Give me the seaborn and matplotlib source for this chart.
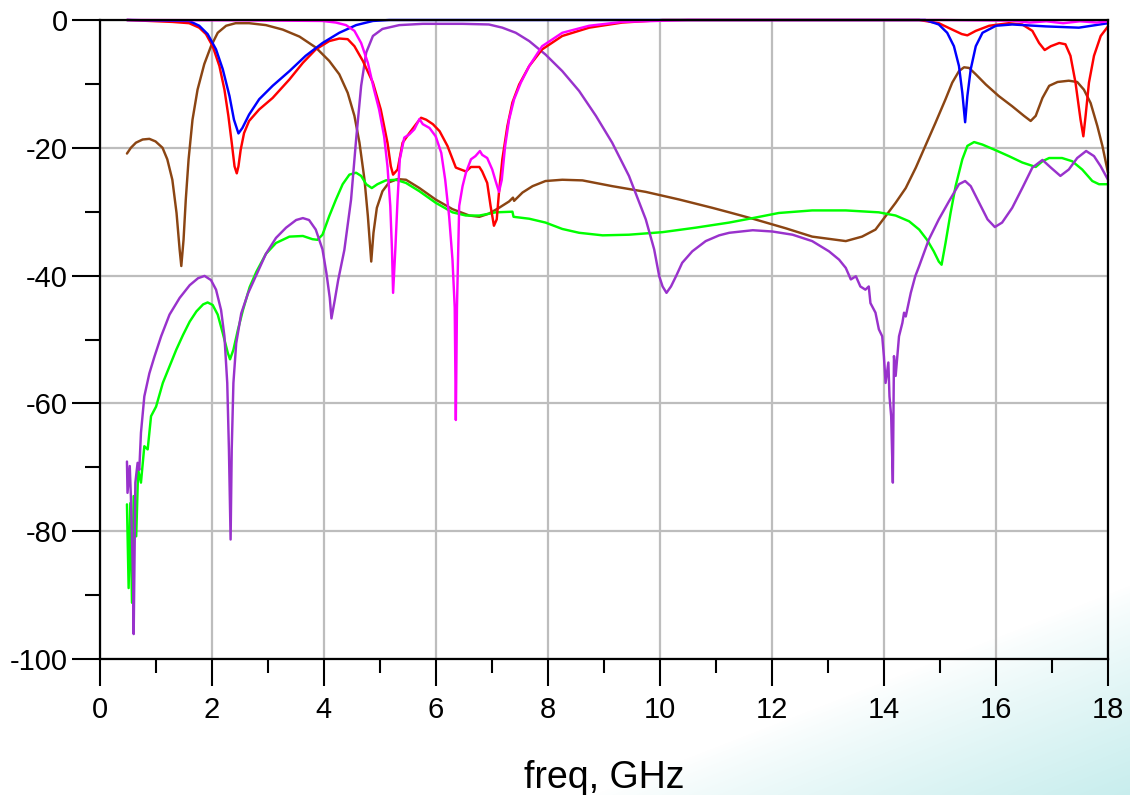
import numpy as np
import pandas as pd
import matplotlib
matplotlib.use("Agg")
import matplotlib.pyplot as plt
import seaborn as sns

# S-parameter traces (freq in GHz, magnitude in dB)
red_f = [0.49, 1.3, 1.6, 1.78, 1.9, 2.02, 2.14, 2.23, 2.3, 2.36, 2.41, 2.45, 2.48, 2.52, 2.58,
         2.67, 2.85, 3.09, 3.39, 3.63, 3.86, 4.1, 4.28, 4.43, 4.55, 4.7, 4.88, 5.02, 5.14, 5.2,
         5.24, 5.32, 5.41, 5.53, 5.65, 5.74, 5.83, 5.95, 6.07, 6.21, 6.36, 6.54, 6.63, 6.78,
         6.83, 6.92, 6.98, 7.04, 7.09, 7.13, 7.19, 7.28, 7.37, 7.49, 7.67, 7.9, 8.26, 8.74,
         9.33, 10.05, 14.63, 14.98, 15.22, 15.39, 15.49, 15.64, 15.88, 16.23, 16.47, 16.65,
         16.77, 16.87, 16.98, 17.13, 17.24, 17.33, 17.42, 17.51, 17.56, 17.6, 17.66, 17.75,
         17.87, 18.0]
red_db = [0.0, -0.3, -0.5, -1.2, -2.2, -4.1, -7.2, -10.9, -15.0, -19.2, -22.9, -24.0, -22.9, -20.3, -17.7,
          -15.8, -14.0, -12.2, -9.3, -6.7, -4.6, -3.3, -2.9, -3.0, -4.1, -6.4, -9.8, -14.0, -19.2, -22.9,
          -24.2, -23.4, -19.2, -17.7, -16.3, -15.3, -15.6, -16.3, -17.4, -19.7, -23.1, -23.7, -23.0, -23.0,
          -23.7, -25.5, -29.1, -32.2, -31.2, -27.0, -21.8, -16.6, -12.9, -10.1, -7.2, -4.6, -2.5, -1.2,
          -0.4, 0.0, 0.0, -0.5, -1.5, -2.2, -2.4, -1.7, -0.9, -0.5, -0.7, -1.7,
          -3.6, -4.7, -4.1, -3.6, -3.8, -5.6, -9.8, -15.6, -18.2, -15.0, -9.8, -5.6,
          -2.5, -1.0]

blue_f = [0.49, 1.6, 1.78, 1.93, 2.08, 2.2, 2.32, 2.4, 2.48, 2.55, 2.67, 2.85, 3.09, 3.39, 3.68,
          3.98, 4.28, 4.58, 4.88, 5.17, 14.74, 14.98, 15.13, 15.25, 15.34, 15.4, 15.45, 15.49,
          15.55, 15.64, 15.76, 16.0, 16.29, 16.89, 17.48, 17.78, 18.0]
blue_db = [0.0, -0.15, -0.9, -2.2, -4.6, -7.7, -11.9, -15.6, -17.75, -16.9, -14.8, -12.4, -10.3, -8.0, -5.6,
           -3.6, -2.0, -0.8, -0.15, 0.0, 0.0, -0.7, -2.0, -4.1, -7.2, -11.4, -16.0, -11.9,
           -7.7, -4.1, -2.0, -0.9, -0.7, -1.0, -1.2, -0.8, -0.5]

magenta_f = [0.49, 2.5, 3.98, 4.22, 4.4, 4.55, 4.67, 4.79, 4.9, 4.99, 5.08, 5.14, 5.19, 5.22, 5.24,
             5.28, 5.32, 5.36, 5.44, 5.53, 5.62, 5.71, 5.77, 5.89, 6.0, 6.1, 6.17, 6.24, 6.3, 6.34,
             6.36, 6.38, 6.42, 6.48, 6.54, 6.63, 6.71, 6.79, 6.83, 6.92, 7.01, 7.07, 7.13, 7.18,
             7.24, 7.31, 7.4, 7.52, 7.67, 7.9, 8.26, 8.74, 9.33, 10.5, 15.0, 16.3, 16.6, 16.9,
             17.2, 17.5, 17.8, 18.0]
magenta_db = [0.0, -0.05, -0.15, -0.4, -0.8, -1.7, -3.6, -6.7, -10.9, -14.0, -18.2, -22.9, -29.1, -35.9, -42.7,
              -35.9, -28.1, -21.8, -18.4, -17.9, -17.1, -15.5, -16.3, -16.9, -18.2, -20.8, -25.0, -30.7, -37.5, -45.0,
              -62.6, -45.0, -29.1, -26.0, -23.9, -21.8, -21.3, -20.5, -21.1, -21.6, -23.4, -25.2, -26.9, -25.0,
              -19.7, -15.6, -12.4, -9.8, -7.2, -4.1, -2.0, -0.9, -0.3, 0.0, 0.0, -0.1, -0.4, -0.2,
              -0.5, -0.2, -0.4, -0.2]

brown_f = [0.49, 0.56, 0.65, 0.77, 0.89, 1.0, 1.125, 1.21, 1.30, 1.375, 1.43, 1.46, 1.5, 1.54, 1.59,
           1.66, 1.75, 1.87, 1.99, 2.11, 2.26, 2.43, 2.67, 2.97, 3.27, 3.57, 3.86, 4.1, 4.28, 4.43,
           4.55, 4.64, 4.73, 4.79, 4.85, 4.89, 4.95, 5.05, 5.17, 5.32, 5.47, 5.71, 6.0, 6.3, 6.6,
           6.78, 6.95, 7.13, 7.31, 7.38, 7.4, 7.55, 7.73, 7.96, 8.26, 8.62, 9.15, 9.75, 10.35,
           10.94, 11.24, 11.66, 12.25, 12.72, 13.32, 13.61, 13.85, 14.03, 14.21, 14.39, 14.57,
           14.74, 14.92, 15.1, 15.22, 15.34, 15.43, 15.52, 15.64, 15.82, 16.05, 16.29, 16.5,
           16.62, 16.71, 16.83, 16.95, 17.1, 17.3, 17.45, 17.57, 17.69, 17.81, 17.9, 18.0]
brown_db = [-20.9, -20.0, -19.2, -18.7, -18.6, -19.0, -20.0, -21.8, -25.0, -30.2, -35.9, -38.5, -34.4, -28.1, -21.8,
            -15.6, -10.9, -6.9, -4.1, -2.0, -0.9, -0.5, -0.5, -0.8, -1.5, -2.6, -4.3, -6.4, -8.5, -11.4,
            -15.0, -19.2, -25.0, -30.7, -37.8, -33.3, -29.4, -26.8, -25.4, -24.9, -25.0, -26.3, -28.1, -29.6, -30.6,
            -30.8, -30.3, -29.4, -28.4, -27.8, -28.3, -27.0, -26.0, -25.2, -25.0, -25.1, -26.0, -26.9, -28.1,
            -29.4, -30.1, -31.1, -32.6, -33.9, -34.6, -33.9, -32.8, -30.7, -28.6, -26.3, -23.1,
            -19.7, -16.1, -12.4, -9.8, -8.0, -7.4, -7.5, -8.5, -10.1, -11.9, -13.5, -15.0,
            -15.8, -15.0, -12.2, -10.3, -9.7, -9.5, -9.7, -10.9, -13.0, -16.6, -19.7, -23.9]

green_f = [0.49, 0.52, 0.55, 0.58, 0.61, 0.655, 0.69, 0.74, 0.80, 0.86, 0.92, 1.01, 1.13, 1.25, 1.37,
           1.49, 1.61, 1.73, 1.85, 1.93, 2.02, 2.11, 2.2, 2.29, 2.33, 2.39, 2.47, 2.56, 2.68, 2.8,
           2.97, 3.15, 3.39, 3.63, 3.8, 3.89, 3.98, 4.1, 4.22, 4.34, 4.46, 4.58, 4.67, 4.76, 4.86,
           4.96, 5.11, 5.29, 5.47, 5.71, 6.0, 6.3, 6.54, 6.78, 6.96, 7.07, 7.37, 7.39, 7.67, 7.96,
           8.26, 8.56, 8.98, 9.45, 10.05, 10.64, 11.24, 11.66, 12.125, 12.72, 13.32, 13.91, 14.21,
           14.45, 14.63, 14.77, 14.89, 14.98, 15.03, 15.1, 15.19, 15.28, 15.4, 15.49, 15.61, 15.76,
           16.0, 16.23, 16.47, 16.71, 16.83, 16.95, 17.18, 17.36, 17.54, 17.72, 17.84, 18.0]
green_db = [-75.8, -88.9, -75.6, -91.2, -74.5, -80.8, -70.4, -72.4, -66.7, -67.2, -62.0, -60.5, -56.8, -54.2, -51.6,
            -49.3, -47.2, -45.6, -44.5, -44.2, -44.6, -46.1, -49.0, -52.1, -53.1, -51.6, -48.5, -45.4, -41.8, -39.4,
            -36.6, -34.9, -33.9, -33.8, -34.3, -34.4, -33.6, -30.7, -28.1, -25.7, -24.2, -23.9, -24.4, -25.7, -26.3,
            -25.7, -25.1, -25.0, -25.5, -26.8, -28.6, -30.1, -30.6, -30.6, -30.3, -30.1, -30.0, -30.8, -31.1, -31.7,
            -32.7, -33.3, -33.7, -33.6, -33.2, -32.5, -31.7, -31.0, -30.2, -29.8, -29.8, -30.1, -30.6,
            -31.5, -32.8, -34.4, -36.2, -37.8, -38.3, -34.9, -30.2, -26.0, -21.8, -19.7, -19.1, -19.5,
            -20.4, -21.3, -22.3, -23.0, -22.1, -21.6, -21.6, -22.1, -23.4, -25.2, -25.7, -25.7]

purple_f = [0.49, 0.50, 0.54, 0.56, 0.60, 0.61, 0.64, 0.68, 0.71, 0.74, 0.80, 0.89, 0.98, 1.1, 1.25,
            1.43, 1.61, 1.76, 1.875, 1.99, 2.08, 2.17, 2.23, 2.28, 2.31, 2.34, 2.36, 2.39, 2.44, 2.53,
            2.65, 2.8, 2.97, 3.15, 3.33, 3.51, 3.63, 3.74, 3.86, 3.98, 4.05, 4.11, 4.14, 4.2, 4.26,
            4.37, 4.49, 4.58, 4.67, 4.76, 4.88, 5.05, 5.35, 5.77, 6.48, 6.95, 7.19, 7.43, 7.67, 7.96,
            8.26, 8.56, 8.86, 9.15, 9.45, 9.75, 9.9, 9.99, 10.05, 10.12, 10.2, 10.29, 10.4, 10.58,
            10.82, 11.06, 11.24, 11.66, 12.01, 12.37, 12.72, 13.02, 13.2, 13.32, 13.41, 13.5, 13.58,
            13.67, 13.73, 13.76, 13.85, 13.91, 13.97, 14.0, 14.03, 14.08, 14.1, 14.13, 14.16, 14.18,
            14.21, 14.27, 14.33, 14.36, 14.39, 14.48, 14.56, 14.63, 14.8, 14.98, 15.16, 15.34, 15.45,
            15.55, 15.7, 15.85, 15.98, 16.11, 16.29, 16.47, 16.65, 16.83, 16.98, 17.15, 17.3, 17.45,
            17.61, 17.75, 17.87, 18.0]
purple_db = [-69.1, -74.0, -69.8, -74.5, -88.0, -96.1, -72.4, -69.3, -70.4, -64.6, -58.9, -55.3, -52.7, -49.5, -46.1,
             -43.5, -41.5, -40.4, -40.05, -40.7, -42.2, -45.4, -49.5, -56.8, -67.2, -81.3, -67.2, -56.8, -50.6, -45.9,
             -42.8, -39.9, -36.6, -34.1, -32.5, -31.3, -31.0, -31.3, -32.8, -35.9, -39.6, -43.5, -46.7, -43.8, -40.7,
             -36.0, -28.1, -18.7, -10.3, -5.1, -2.5, -1.4, -0.8, -0.6, -0.6, -0.7, -1.2, -2.0, -3.3, -5.4,
             -8.0, -11.1, -15.0, -19.2, -24.4, -31.2, -35.9, -40.1, -41.7, -42.7, -41.7, -40.1, -38.0, -36.2,
             -34.6, -33.7, -33.3, -32.9, -33.1, -33.6, -34.6, -36.2, -37.5, -38.8, -40.6, -40.1, -41.7,
             -42.2, -41.7, -44.3, -45.8, -48.4, -49.5, -52.6, -56.8, -53.6, -58.9, -62.0, -72.4, -52.6,
             -55.7, -49.5, -47.4, -45.8, -46.4, -42.7, -40.1, -38.5, -34.4, -31.2, -28.4, -25.7, -25.2,
             -26.0, -28.6, -31.2, -32.4, -31.7, -29.4, -26.3, -23.1, -21.9, -23.1, -24.4, -23.4, -21.6,
             -20.5, -21.3, -22.9, -25.0]

traces = {
    "brown": (brown_f, brown_db, "#8B4513"),
    "green": (green_f, green_db, "#00FF00"),
    "purple": (purple_f, purple_db, "#9932CC"),
    "red": (red_f, red_db, "#FF0000"),
    "blue": (blue_f, blue_db, "#0000FF"),
    "magenta": (magenta_f, magenta_db, "#FF00FF"),
}

df = pd.concat(
    [pd.DataFrame({"freq": f, "dB": v, "trace": name}) for name, (f, v, _) in traces.items()],
    ignore_index=True,
)
palette = {name: c for name, (_, _, c) in traces.items()}

sns.set_theme(style="white")
plt.rcParams["font.family"] = ["Liberation Sans", "DejaVu Sans"]

W, H = 1130, 795
fig = plt.figure(figsize=(W / 100, H / 100), dpi=100)

# light cyan wash in the lower right corner
bg = fig.add_axes([0, 0, 1, 1], zorder=-1)
yy, xx = np.mgrid[0:H, 0:W]
d = ((xx - 1130) * 117 + (yy - 585) * 300) / 322.0
t = np.clip(d / 200.0, 0, 1) ** 0.85
tint = np.array([0.78, 0.93, 0.93])
img = 1 - t[..., None] * (1 - tint)
bg.imshow(img, aspect="auto", interpolation="bilinear")
bg.axis("off")

ax = fig.add_axes([99.5 / W, 1 - 659 / H, (1108 - 99.5) / W, (659 - 20) / H])
ax.set_facecolor("none")

sns.lineplot(data=df, x="freq", y="dB", hue="trace", hue_order=list(traces.keys()),
             palette=palette, estimator=None, sort=False, legend=False,
             linewidth=1.75, ax=ax)
for line in ax.lines:
    line.set_clip_on(False)
    line.set_solid_joinstyle("round")

ax.set_xlim(0, 18)
ax.set_ylim(-100, 0)
ax.set_xticks(range(0, 19, 2))
ax.set_xticks(range(1, 18, 2), minor=True)
ax.set_yticks(range(-100, 1, 20))
ax.set_yticks(range(-90, 0, 20), minor=True)
ax.set_xticklabels([str(v) for v in range(0, 19, 2)])
ax.set_yticklabels([str(v) for v in range(-100, 1, 20)])

ax.grid(True, which="major", color="#BDBDBD", linewidth=1.6)
ax.set_axisbelow(True)
for sp in ax.spines.values():
    sp.set_color("black")
    sp.set_linewidth(1.6)

ax.tick_params(axis="x", which="major", direction="out", length=19.5, width=1.5,
               color="black", labelcolor="black", labelsize=21, pad=7)
ax.tick_params(axis="x", which="minor", direction="out", length=10, width=1.5, color="black")
ax.tick_params(axis="y", which="major", direction="out", length=20, width=1.5,
               color="black", labelcolor="black", labelsize=21, pad=3)
ax.tick_params(axis="y", which="minor", direction="out", length=10.5, width=1.5, color="black")
ax.tick_params(bottom=True, left=True, which="both")

ax.set_ylabel("")
ax.set_xlabel("freq, GHz", fontsize=27, color="black")
ax.xaxis.label.set_va("baseline")
ax.xaxis.set_label_coords(0.5, (659 - 788) / (659 - 20))

fig.savefig("out.png", dpi=100)
